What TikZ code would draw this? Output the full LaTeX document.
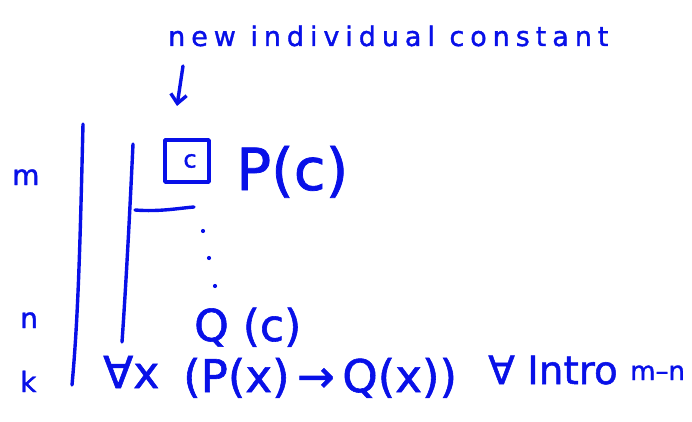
\documentclass[tikz,border=0pt]{standalone}
\usepackage{fontspec}
\setmainfont{DejaVu Sans}[FakeBold=1.3]
\usetikzlibrary{arrows.meta}
\definecolor{ink}{RGB}{8,16,232}
\tikzset{
  hand/.style={draw=ink, line width=3.4pt, line cap=round, line join=round},
  txt/.style={text=ink, inner sep=0pt, anchor=base west},
  sz/.style={font=\fontsize{#1}{#1}\selectfont},
}
\begin{document}
\begin{tikzpicture}[x=1pt,y=-1pt]
\useasboundingbox (0,0) rectangle (692,422);
% annotation
\node[txt, font=\fontsize{27}{27}\selectfont\addfontfeature{LetterSpace=22}] (lbl) at (168,46) {new individual constant};
\coordinate (tail) at (183,66);
\coordinate (tip) at (177,106);
\draw[hand, -{Straight Barb[length=9pt,width=16pt]}] (tail) -- (tip);
% line numbers
\node[txt, sz=28] (m) at (12,185) {m};
\node[txt, sz=28] (n) at (20,328) {n};
\node[txt, sz=28] (k) at (20,392) {k};
% scope lines
\draw[hand] (83,124) .. controls (80,250) and (78,320) .. (72,385);
\draw[hand] (133,144) .. controls (129,230) and (125,300) .. (122,342);
\draw[hand] (135,210) .. controls (160,212) and (180,208) .. (194,207);
% boxed constant
\node[hand, anchor=center, minimum width=44pt, minimum height=42pt, text=ink, sz=24] (box) at (187,161) {\hspace*{6pt}c};
\node[txt, sz=58] (Pc) at (236,190) {P(c)};
% vertical dots
\fill[ink] (203,231) circle (2.1pt) (209,258) circle (2.1pt) (215,286) circle (2.1pt);
\node[txt, sz=44] (Qc) at (194,341) {Q (c)};
% conclusion
\node[txt, sz=44] (ax) at (103,388) {∀x};
\node[txt, sz=45] (form) at (183,392) {(P(x)\,→\,Q(x))};
\node[txt, sz=39] (rule) at (488,384) {∀ Intro};
\node[txt, sz=26] (rng) at (630,380) {m–n};
\end{tikzpicture}
\end{document}
